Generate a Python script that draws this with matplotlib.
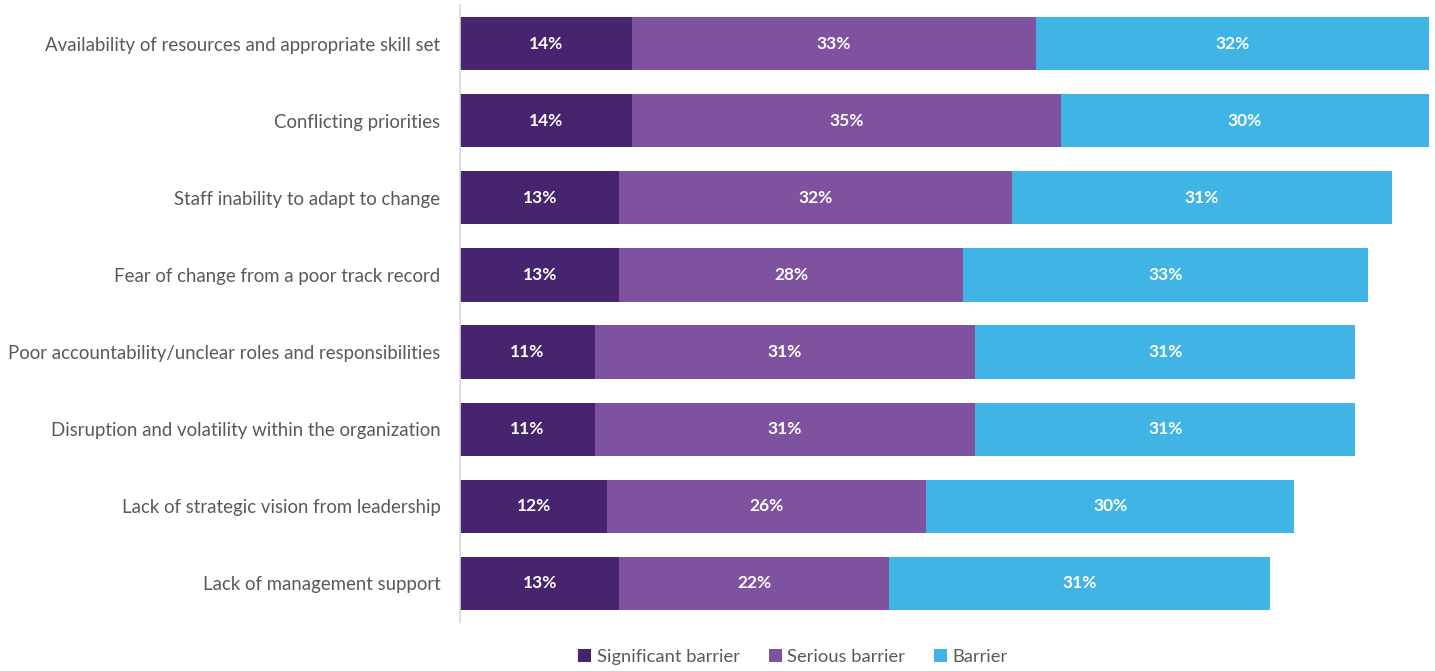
import matplotlib.pyplot as plt
import numpy as np

plt.rcParams['font.family'] = ['Lato', 'DejaVu Sans']

categories = [
    "Availability of resources and appropriate skill set",
    "Conflicting priorities",
    "Staff inability to adapt to change",
    "Fear of change from a poor track record",
    "Poor accountability/unclear roles and responsibilities",
    "Disruption and volatility within the organization",
    "Lack of strategic vision from leadership",
    "Lack of management support",
]
significant = [14, 14, 13, 13, 11, 11, 12, 13]
serious = [33, 35, 32, 28, 31, 31, 26, 22]
barrier = [32, 30, 31, 33, 31, 31, 30, 31]

series_names = ["Significant barrier", "Serious barrier", "Barrier"]
colors = ["#46246e", "#7f52a0", "#41b4e6"]
text_color = "#595959"

fig = plt.figure(figsize=(14.35, 6.71), dpi=100)
ax = fig.add_axes([460 / 1435, 1 - 622 / 671, (1429 - 460) / 1435, 617 / 671])

y = np.arange(len(categories))
left = np.zeros(len(categories))
for name, vals, col in zip(series_names, [significant, serious, barrier], colors):
    vals = np.array(vals, dtype=float)
    bars = ax.barh(y, vals, left=left, height=0.69, color=col, label=name)
    for b, v in zip(bars, vals):
        ax.text(b.get_x() + b.get_width() / 2, b.get_y() + b.get_height() / 2,
                f"{v:.0f}%", ha="center", va="center", color="white",
                fontsize=12.5, fontweight="bold")
    left += vals

ax.set_xlim(0, 79)
ax.set_ylim(len(categories) - 0.5, -0.5)
ax.set_yticks(y)
ax.set_yticklabels(categories, fontsize=13.4, color=text_color)
ax.tick_params(axis="y", length=0, pad=14)
ax.set_xticks([])
for s in ["top", "right", "bottom"]:
    ax.spines[s].set_visible(False)
ax.spines["left"].set_color("#d9d9d9")
ax.spines["left"].set_linewidth(1.2)

fig.legend(loc="center", bbox_to_anchor=(793 / 1435, 1 - 657 / 671), ncol=3,
           frameon=False, fontsize=13.2, labelcolor=text_color,
           handlelength=0.7, handleheight=0.7, handletextpad=0.3,
           columnspacing=1.6)

fig.savefig("out.png", dpi=100)
